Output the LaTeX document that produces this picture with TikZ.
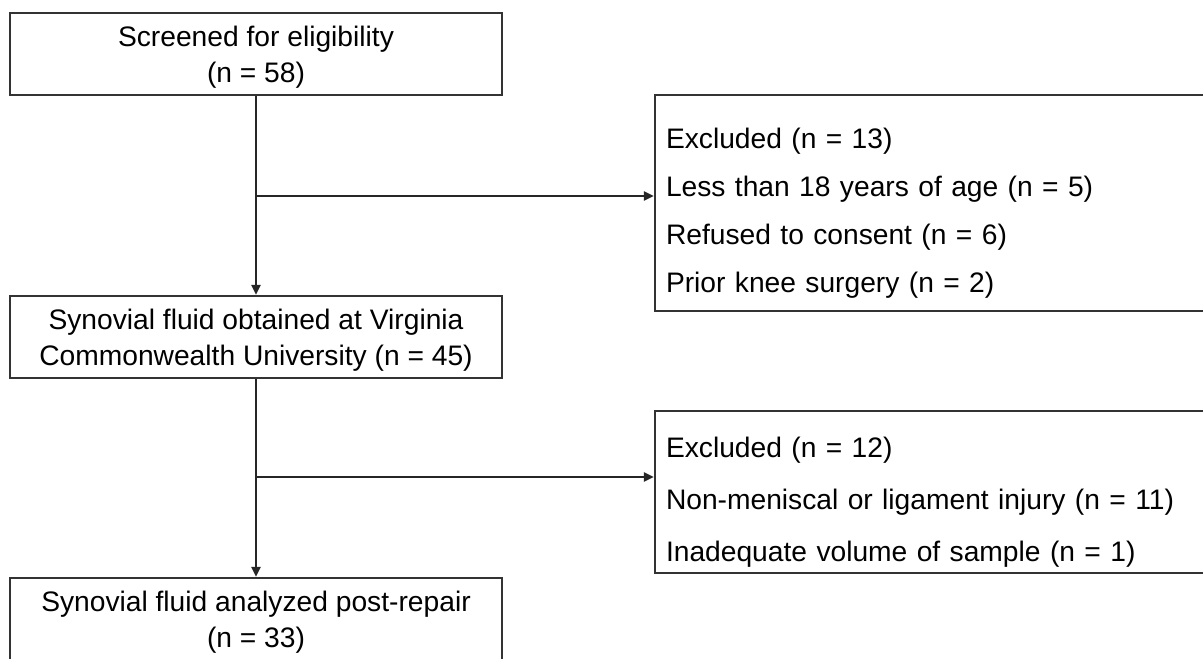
\documentclass[tikz,border=0pt]{standalone}
\usepackage{fontspec}
\setmainfont{Liberation Sans}
\usetikzlibrary{arrows.meta}

\begin{document}
\begin{tikzpicture}[x=0.5pt,y=0.5pt,
    stagebox/.style={draw=black!80,line width=1.2pt,minimum width=246pt,minimum height=41pt,
        inner sep=0pt,align=center,font=\fontsize{14.1}{18}\selectfont},
    exclbox/.style={draw=black!80,line width=1.2pt,minimum width=280pt,text width=269pt,
        inner xsep=5.5pt,inner ysep=0pt,align=left,font=\fontsize{14.1}{24}\selectfont},
    flow/.style={draw=black!85,line width=1.2pt,-{Triangle[length=5pt,width=4.5pt]}}]
    \clip (0,0) rectangle (1203,658);

    % Main stages
    \node[stagebox] (screened) at (256,604) {\rule{0pt}{13.5pt}Screened for eligibility\\(n = 58)};
    \node[stagebox] (obtained) at (256,321) {\rule{0pt}{13.5pt}Synovial fluid obtained at Virginia\\Commonwealth University (n = 45)};
    \node[stagebox] (analyzed) at (256,39) {\rule{0pt}{13.5pt}Synovial fluid analyzed post-repair\\(n = 33)};

    % Exclusions
    \node[exclbox,minimum height=108pt] (excl1) at (935,455)
        {\rule{0pt}{20pt}Excluded (n = 13)\\Less than 18 years of age (n = 5)\\Refused to consent (n = 6)\\Prior knee surgery (n = 2)};
    \node[exclbox,minimum height=81pt,font=\fontsize{14.1}{26}\selectfont] (excl2) at (935,166)
        {\rule{0pt}{20pt}Excluded (n = 12)\\Non-meniscal or ligament injury (n = 11)\\Inadequate volume of sample (n = 1)};

    % Flow
    \coordinate (split1) at (256,462);
    \coordinate (split2) at (256,181);
    \draw[flow] (screened) -- (obtained);
    \draw[flow] (obtained) -- (analyzed);
    \draw[flow] (split1) -- (split1 -| excl1.west);
    \draw[flow] (split2) -- (split2 -| excl2.west);
\end{tikzpicture}
\end{document}
